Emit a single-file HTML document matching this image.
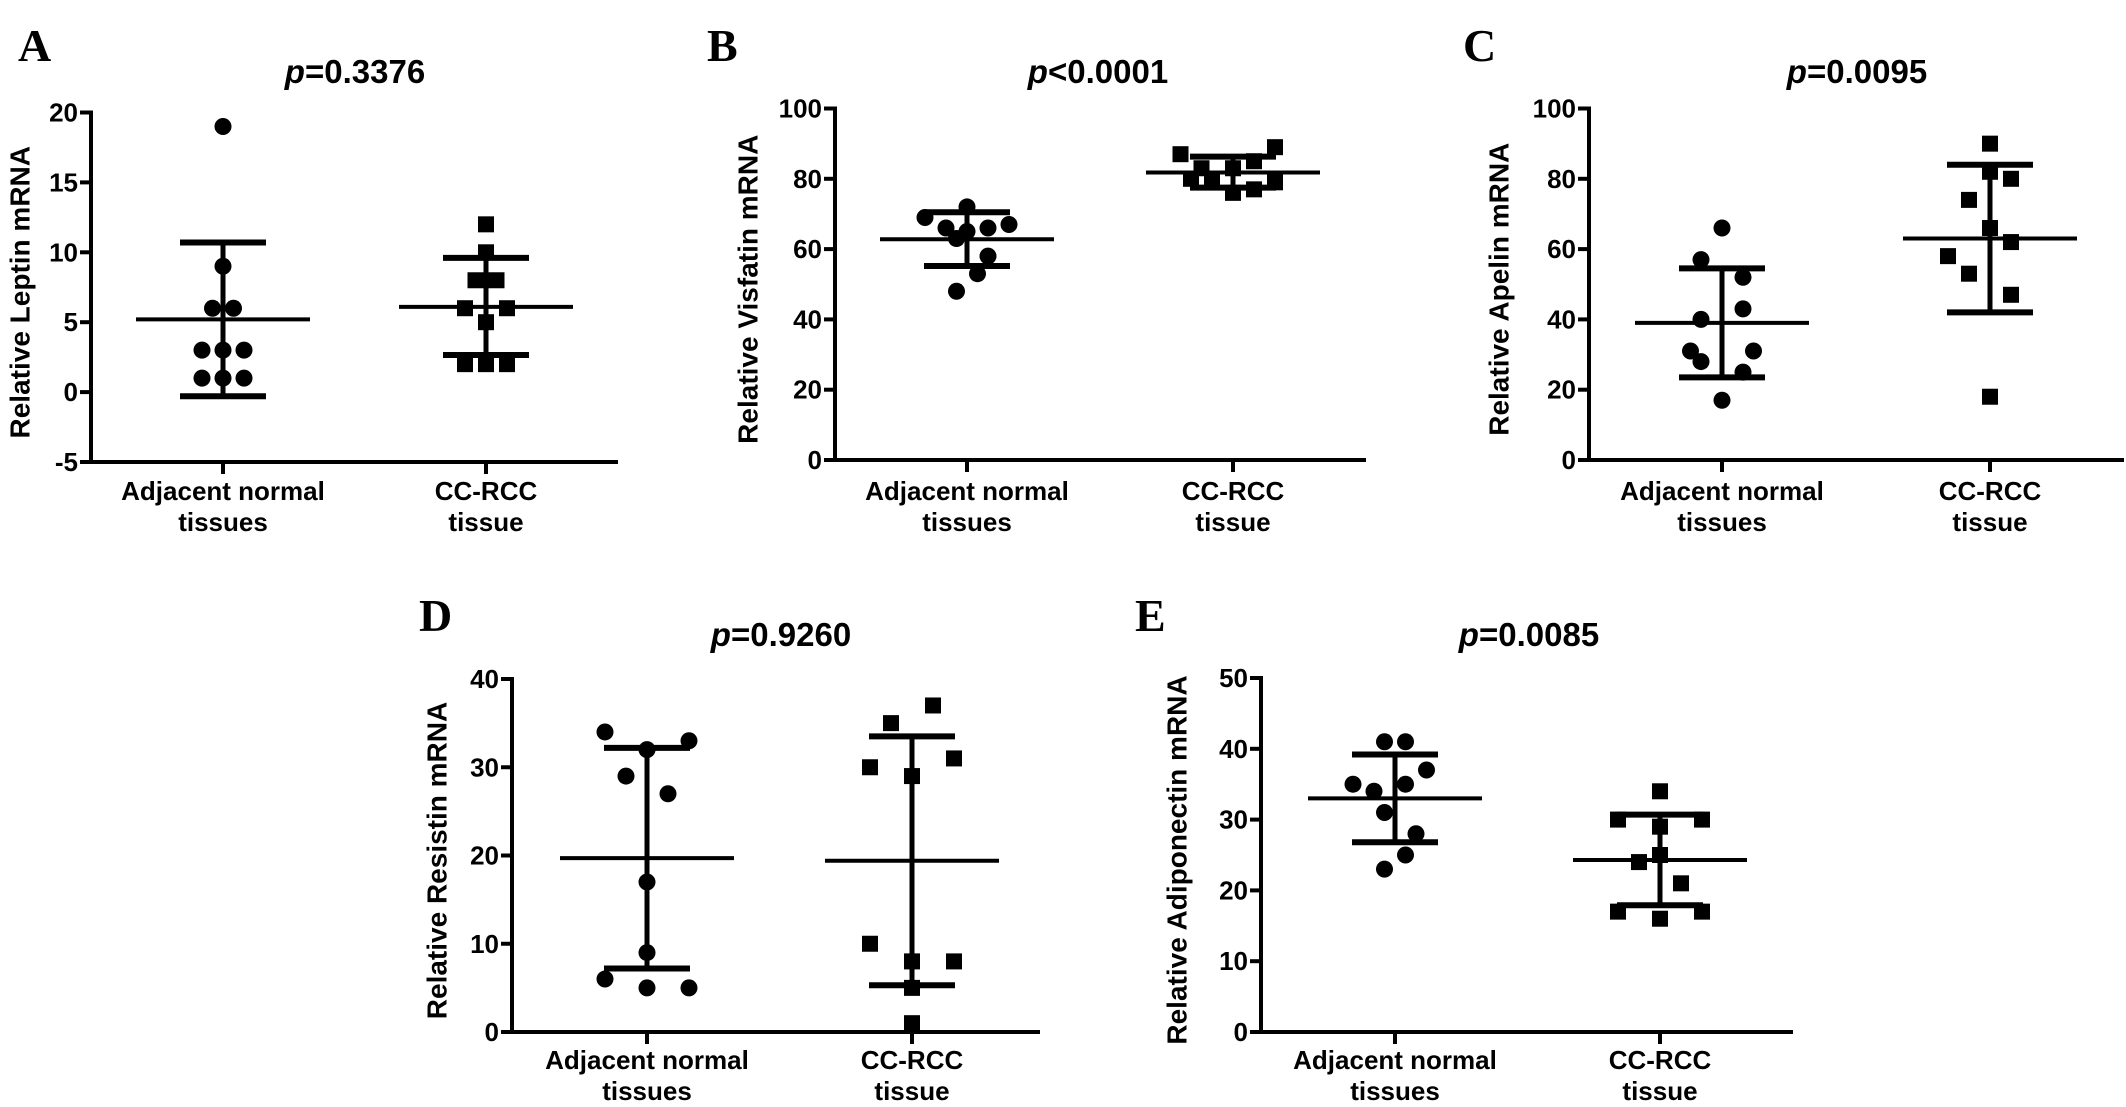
<!DOCTYPE html>
<html><head><meta charset="utf-8">
<style>
html,body{margin:0;padding:0;background:#fff;overflow:hidden;}
svg{display:block;}
text{font-family:"Liberation Sans",Arial,sans-serif;font-weight:bold;fill:#000;}
.letter{font-family:"Liberation Serif",serif;font-size:46px;}
</style></head>
<body>
<svg id="fig" width="2126" height="1107" viewBox="0 0 2126 1107" xmlns="http://www.w3.org/2000/svg"></svg>
<script>
// ---- data ----
const categories = ["Adjacent normal|tissues", "CC-RCC|tissue"];
const titles = ["=0.3376", "<0.0001", "=0.0095", "=0.9260", "=0.0085"];
const yTitles = ["Relative Leptin mRNA","Relative Visfatin mRNA","Relative Apelin mRNA","Relative Resistin mRNA","Relative Adiponectin mRNA"];
const letters = ["A","B","C","D","E"];
const yTicksA = [-5,0,5,10,15,20];
const yTicksB = [0,20,40,60,80,100];
const yTicksC = [0,20,40,60,80,100];
const yTicksD = [0,10,20,30,40];
const yTicksE = [0,10,20,30,40,50];
// values per group
const leptinNormal = [19,9,6,6,3,3,3,1,1,1];
const leptinRCC = [12,10,8,8,6,6,5,2,2,2];
const visfatinNormal = [72,69,66,65,63,66,67,58,53,48];
const visfatinRCC = [87,89,83,83,85,80,79,79,76,77];
const apelinNormal = [66,57,52,43,40,31,31,28,25,17];
const apelinRCC = [90,82,80,74,66,62,58,53,47,18];
const resistinNormal = [34,33,32,29,27,17,9,6,5,5];
const resistinRCC = [37,35,31,30,29,10,8,8,5,1];
const adipoNormal = [41,41,37,35,35,34,31,28,25,23];
const adipoRCC = [34,30,30,29,25,24,21,17,16,17];
// mean, sd-upper, sd-lower per group
const statsA = [[5.2,10.7,-0.3],[6.1,9.6,2.65]];
const statsB = [[62.8,70.5,55.2],[81.8,86.3,77.5]];
const statsC = [[39,54.5,23.5],[63,84,42]];
const statsD = [[19.7,32.2,7.2],[19.4,33.5,5.3]];
const statsE = [[33,39.2,26.8],[24.3,30.7,17.9]];
// jitter slots (in marker units)
const jitA = [[0,0,-0.5,0.5,-1,0,1,-1,0,1],[0,0,-0.5,0.5,-1,1,0,-1,0,1]];
const jitB = [[0,-2,-1,0,-0.5,1,2,1,0.5,-0.5],[-2.5,2,-1.5,0,1,-2,-1,2,0,1]];
const jitC = [[0,-1,1,1,-1,-1.5,1.5,-1,1,0],[0,0,1,-1,0,1,-2,-1,1,0]];
const jitD = [[-2,2,0,-1,1,0,0,-2,0,2],[1,-1,2,-2,0,-2,0,2,0,0]];
const jitE = [[-0.5,0.5,1.5,-2,0.5,-1,-0.5,1,0.5,-0.5],[0,-2,2,0,0,-1,1,-2,0,2]];

const svg = document.getElementById('fig');
const NS = "http://www.w3.org/2000/svg";
function mk(tag, attrs, parent){
  const e = document.createElementNS(NS, tag);
  for (const k in attrs) e.setAttribute(k, attrs[k]);
  (parent||svg).appendChild(e);
  return e;
}

const panels = [
  {i:0, ax:91, y0:112.5, y1:462, xEnd:618, cx:[223,486], ticks:yTicksA, data:[leptinNormal,leptinRCC], stats:statsA, jit:jitA, tcx:355, tby:83, ytx:20, lx:18, lby:61, cby:[500,531]},
  {i:1, ax:835, y0:108.5, y1:460, xEnd:1366, cx:[967,1233], ticks:yTicksB, data:[visfatinNormal,visfatinRCC], stats:statsB, jit:jitB, tcx:1098, tby:83, ytx:748, lx:707, lby:61, cby:[500,531]},
  {i:2, ax:1589, y0:108.5, y1:460, xEnd:2124, cx:[1722,1990], ticks:yTicksC, data:[apelinNormal,apelinRCC], stats:statsC, jit:jitC, tcx:1857, tby:83, ytx:1499, lx:1463, lby:61, cby:[500,531]},
  {i:3, ax:512, y0:679, y1:1032, xEnd:1040, cx:[647,912], ticks:yTicksD, data:[resistinNormal,resistinRCC], stats:statsD, jit:jitD, tcx:781, tby:646, ytx:437, lx:419, lby:631, cby:[1069,1100]},
  {i:4, ax:1261, y0:678, y1:1032, xEnd:1793, cx:[1395,1660], ticks:yTicksE, data:[adipoNormal,adipoRCC], stats:statsE, jit:jitE, tcx:1529, tby:646, ytx:1177, lx:1135, lby:631, cby:[1069,1100]}
];

panels.forEach(p=>{
  const g = mk('g',{});
  
  
  const tmin = p.ticks[0], tmax = p.ticks[p.ticks.length-1];
  const yS = v => p.y1 - (v - tmin)/(tmax - tmin)*(p.y1 - p.y0);
  const J = 21;
  const yty = (p.y0 + p.y1)/2 + 5;

  const lt = mk('text',{x:p.lx, y:p.lby, class:'letter'}, g);
  lt.textContent = letters[p.i];
  
  

  const tt = mk('text',{x:p.tcx, y:p.tby, 'font-size':33, 'text-anchor':'middle'}, g);
  const ts = mk('tspan',{'font-style':'italic'}, tt); ts.textContent = 'p';
  const ts2 = mk('tspan',{}, tt); ts2.textContent = titles[p.i];
  
  

  const yt = mk('text',{x:p.ytx, y:yty, 'font-size':28, 'text-anchor':'middle', transform:`rotate(-90 ${p.ytx} ${yty})`, 'dominant-baseline':'central'}, g);
  yt.textContent = yTitles[p.i];
  
  

  const axis = mk('path',{d:`M${p.ax} ${p.y0-2} V${p.y1} H${p.xEnd}`, stroke:'#000', 'stroke-width':4, fill:'none'}, g);
  
  

  p.ticks.forEach(t=>{
    const y = yS(t);
    const tk = mk('line',{x1:p.ax-11, x2:p.ax, y1:y, y2:y, stroke:'#000', 'stroke-width':4}, g);
    
    
    const tl = mk('text',{x:p.ax-13, y:y+9, 'font-size':26, 'text-anchor':'end'}, g);
    tl.textContent = t;
    
    
  });

  p.cx.forEach((cx,k)=>{
    const tk = mk('line',{x1:cx, x2:cx, y1:p.y1, y2:p.y1+12, stroke:'#000', 'stroke-width':4}, g);
    
    
    const lines = categories[k].split('|');
    lines.forEach((ln,j)=>{
      const cl = mk('text',{x:cx, y:p.cby[j], 'font-size':26, 'text-anchor':'middle'}, g);
      cl.textContent = ln;
      
      
    });
    p.data[k].forEach((v,n)=>{
      const x = cx + p.jit[k][n]*J, y = yS(v);
      let m;
      if (k===0) m = mk('circle',{cx:x, cy:y, r:8.5, fill:'#000'}, g);
      else m = mk('rect',{x:x-8, y:y-8, width:16, height:16, fill:'#000'}, g);
      
      
    });
    const st = p.stats[k];
    const ym = yS(st[0]), yu = yS(st[1]), yl = yS(st[2]);
    const ml = mk('line',{x1:cx-87, x2:cx+87, y1:ym, y2:ym, stroke:'#000', 'stroke-width':4}, g);
    
    
    const vl = mk('line',{x1:cx, x2:cx, y1:yu, y2:yl, stroke:'#000', 'stroke-width':5}, g);
    
    
    [yu,yl].forEach(yy=>{
      const c = mk('line',{x1:cx-43, x2:cx+43, y1:yy, y2:yy, stroke:'#000', 'stroke-width':6}, g);
      
      
    });
  });
});
</script>
</body></html>
